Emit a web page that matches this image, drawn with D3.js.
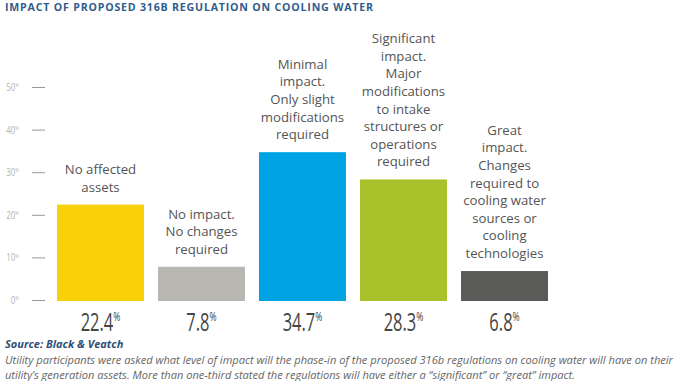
<!DOCTYPE html>
<html><head><meta charset="utf-8">
<script src="https://cdn.jsdelivr.net/npm/d3@7"></script>
<style>
body{margin:0;background:#fff;}
svg{display:block;}
</style></head>
<body>
<svg id="c" width="678" height="381"></svg>
<script>
const categories = ["No affected assets","No impact","Minimal impact","Significant impact","Great impact"];
const values = [22.4, 7.8, 34.7, 28.3, 6.8];
const labelLines = [
  ["No affected","assets"],
  ["No impact.","No changes","required"],
  ["Minimal","impact.","Only slight","modifications","required"],
  ["Significant","impact.","Major","modifications","to intake","structures or","operations","required"],
  ["Great","impact.","Changes","required to","cooling water","sources or","cooling","technologies"]
];
const colors = ["#f9d10b","#b9b7b2","#00a3e4","#a9c22b","#5a5b59"];
const yTicks = [0,10,20,30,40,50];

const svg = d3.select("#c");
const x = d3.scaleBand().domain(categories).range([57,548]).paddingInner(0.139).paddingOuter(0);
const y = d3.scaleLinear().domain([0,50]).range([300,87]);

// title
svg.append("text").attr("x",5).attr("y",11)
  .attr("font-family","'Open Sans',sans-serif").attr("font-weight","bold")
  .attr("font-size",10.6).attr("fill","#2f5d8c").attr("textLength",368)
  .text("IMPACT OF PROPOSED 316B REGULATION ON COOLING WATER");

// y axis ticks
const axis = d3.axisLeft(y).tickValues(yTicks).tickSize(13).tickPadding(13).tickFormat("");
const ag = svg.append("g").attr("transform","translate(45,0)").call(axis);
ag.select(".domain").remove();
ag.selectAll(".tick line").attr("stroke","#9a9a9a").attr("stroke-width",1);
ag.selectAll(".tick").append("text")
  .attr("transform","translate(-26,0) scale(0.8,1)")
  .attr("dy","0.35em").attr("text-anchor","end")
  .attr("font-family","'Open Sans',sans-serif")
  .attr("font-size",10).attr("fill","#b5b5b5")
  .each(function(d){
    const t=d3.select(this);
    t.append("tspan").text(d);
    t.append("tspan").attr("font-size",5.5).attr("dy","-0.7em").text("%");
  });

// bars
svg.selectAll("rect.bar").data(categories).join("rect").attr("class","bar")
  .attr("x",d=>x(d)).attr("width",x.bandwidth())
  .attr("y",(d,i)=>y(values[i])).attr("height",(d,i)=>y(0)-y(values[i])+1)
  .attr("fill",(d,i)=>colors[i]);

// category labels
const lh = 17.6;
categories.forEach((c,i)=>{
  const lines = labelLines[i];
  const cx = x(c)+x.bandwidth()/2;
  const baseLast = y(values[i]) - 13;
  const t = svg.append("text").attr("text-anchor","middle")
    .attr("font-family","'Open Sans',sans-serif").attr("font-size",13.2).attr("fill","#555");
  lines.forEach((l,j)=>{
    t.append("tspan").attr("x",cx).attr("y",baseLast-(lines.length-1-j)*lh).text(l);
  });
});

// value labels
categories.forEach((c,i)=>{
  const cx = x(c)+x.bandwidth()/2;
  const t = svg.append("text").attr("transform",`translate(${cx},331) scale(0.66,1)`).attr("text-anchor","middle")
    .attr("font-family","'Open Sans',sans-serif")
    .attr("font-size",25).attr("fill","#454545");
  t.append("tspan").text(values[i].toFixed(1));
  t.append("tspan").attr("font-size",13).attr("dy","-0.75em").text("%");
});

// source
svg.append("text").attr("x",5).attr("y",348)
  .attr("font-family","'Open Sans',sans-serif").attr("font-weight","bold").attr("font-style","italic")
  .attr("font-size",11).attr("fill","#2f4f78").text("Source: Black & Veatch");
const notes = [
  "Utility participants were asked what level of impact will the phase-in of the proposed 316b regulations on cooling water will have on their",
  "utility\u2019s generation assets. More than one-third stated the regulations will have either a \u201csignificant\u201d or \u201cgreat\u201d impact."
];
svg.append("text").attr("x",5).attr("y",364)
  .attr("font-family","'Open Sans',sans-serif").attr("font-style","italic")
  .attr("font-size",10.2).attr("fill","#666").attr("textLength",668).attr("lengthAdjust","spacingAndGlyphs").text(notes[0]);
svg.append("text").attr("x",5).attr("y",379)
  .attr("font-family","'Open Sans',sans-serif").attr("font-style","italic")
  .attr("font-size",10.2).attr("fill","#666").attr("textLength",570).attr("lengthAdjust","spacingAndGlyphs").text(notes[1]);
</script>
</body></html>
